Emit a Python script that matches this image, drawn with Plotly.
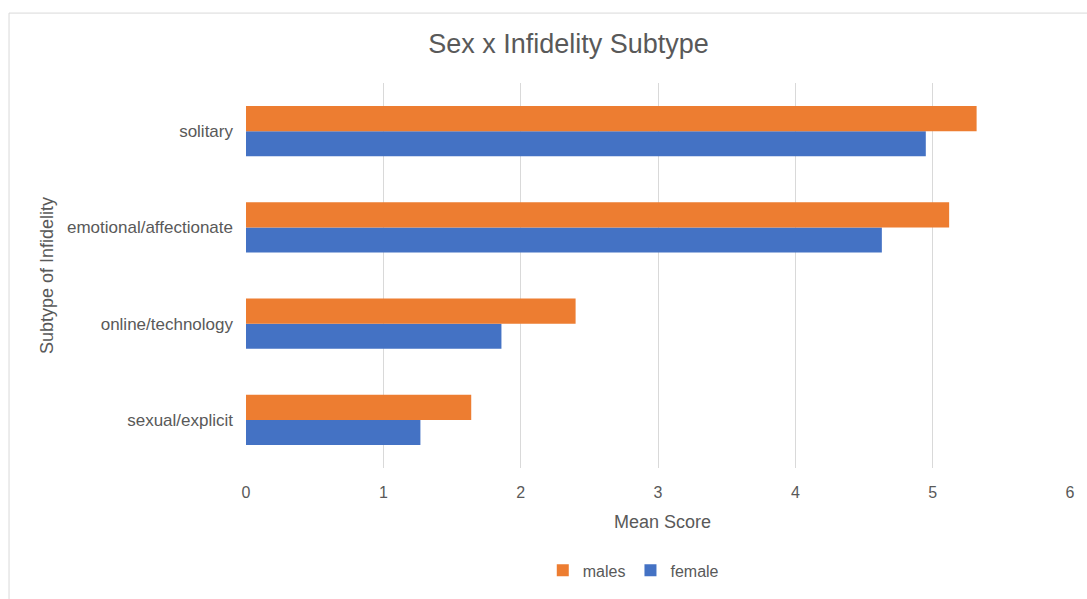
import plotly.graph_objects as go

categories = ["sexual/explicit", "online/technology", "emotional/affectionate", "solitary"]
female = [1.27, 1.86, 4.63, 4.95]
males = [1.64, 2.40, 5.12, 5.32]
x_ticks = [0, 1, 2, 3, 4, 5, 6]

FONT = "Liberation Sans, Arial, sans-serif"
TXT = "#595959"

fig = go.Figure()
fig.add_trace(go.Bar(y=categories, x=female, name="female", orientation="h",
                     marker=dict(color="#4472C4", line=dict(width=0))))
fig.add_trace(go.Bar(y=categories, x=males, name="males", orientation="h",
                     marker=dict(color="#ED7D31", line=dict(width=0))))

fig.update_layout(
    width=1087, height=599,
    margin=dict(l=246, r=17, t=83, b=125),
    paper_bgcolor="white", plot_bgcolor="white",
    barmode="group", bargap=0.48, bargroupgap=0,
    font=dict(family=FONT, color=TXT, size=16),
    title=dict(text="Sex x Infidelity Subtype", x=0.523, xanchor="center",
               y=0.927, yanchor="middle", font=dict(size=27, color=TXT)),
    legend=dict(orientation="h", x=0.47, xanchor="center", y=-0.266, yanchor="middle",
                traceorder="reversed", font=dict(size=16, color=TXT),
                itemwidth=30),
    showlegend=True,
    xaxis=dict(range=[0, 6], tickvals=x_ticks, showgrid=True, gridcolor="#d9d9d9",
               gridwidth=1, zeroline=False, showline=False, ticks="",
               tickfont=dict(size=16, color=TXT), ticklabelstandoff=13),
    yaxis=dict(showgrid=False, zeroline=False, showline=False, ticks="",
               tickfont=dict(size=17, color=TXT), ticklabelstandoff=12),
    annotations=[
        dict(text="Mean Score", xref="paper", yref="paper", x=0.506, y=-0.14,
             xanchor="center", yanchor="middle", showarrow=False,
             font=dict(size=18, color=TXT)),
        dict(text="Subtype of Infidelity", xref="paper", yref="paper", x=-0.242, y=0.5,
             xanchor="center", yanchor="middle", showarrow=False, textangle=-90,
             font=dict(size=18, color=TXT)),
    ],
    shapes=[dict(type="rect", xref="paper", yref="paper", x0=-0.2876, y0=-0.6,
                 x1=1.2, y1=1.1816, line=dict(color="#d9d9d9", width=1), layer="below")],
)

fig.write_html("out.html")
